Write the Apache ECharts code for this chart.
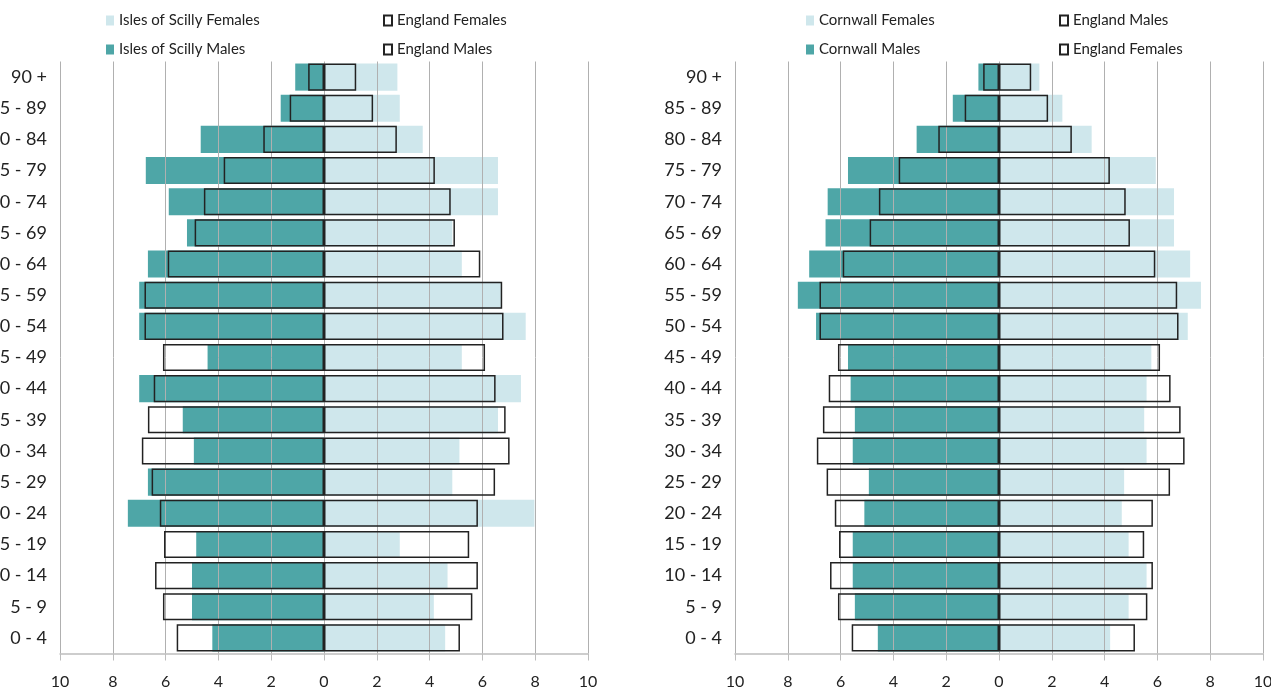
<!DOCTYPE html>
<html>
<head>
<meta charset="utf-8">
<script src="https://cdn.jsdelivr.net/npm/echarts@6/dist/echarts.min.js"></script>
<style>
html,body{margin:0;padding:0;background:#fff;}
#c{width:1271px;height:692px;}
</style>
</head>
<body>
<div id="c"></div>
<script>
// Age bands, bottom to top
const ages = ['0 - 4','5 - 9','10 - 14','15 - 19','20 - 24','25 - 29','30 - 34','35 - 39','40 - 44','45 - 49','50 - 54','55 - 59','60 - 64','65 - 69','70 - 74','75 - 79','80 - 84','85 - 89','90 +'];
// Percent of population
const scillyMales   = [4.23, 5.0, 5.0, 4.84, 7.43, 6.67, 4.93, 5.35, 7.0, 4.41, 7.0, 7.0, 6.67, 5.19, 5.88, 6.75, 4.67, 1.64, 1.09];
const scillyFemales = [4.59, 4.16, 4.68, 2.87, 7.97, 4.86, 5.13, 6.59, 7.46, 5.22, 7.64, 6.70, 5.22, 4.86, 6.59, 6.59, 3.74, 2.87, 2.78];
const cornwallMales   = [4.59, 5.46, 5.54, 5.54, 5.1, 4.93, 5.54, 5.46, 5.62, 5.72, 6.93, 7.62, 7.19, 6.57, 6.49, 5.72, 3.12, 1.75, 0.78];
const cornwallFemales = [4.21, 4.91, 5.59, 4.91, 4.65, 4.74, 5.59, 5.5, 5.59, 5.77, 7.15, 7.65, 7.24, 6.63, 6.63, 5.94, 3.51, 2.40, 1.53];
const englandMales   = [5.58, 6.1, 6.4, 6.06, 6.22, 6.53, 6.9, 6.67, 6.45, 6.1, 6.8, 6.8, 5.92, 4.9, 4.55, 3.8, 2.3, 1.3, 0.6];
const englandFemales = [5.15, 5.62, 5.83, 5.5, 5.83, 6.48, 7.03, 6.88, 6.5, 6.1, 6.8, 6.75, 5.92, 4.96, 4.8, 4.2, 2.76, 1.86, 1.22];

const FONT = 'Lato';
const TEAL = '#4ea6a7';
const LIGHT = '#cfe7ec';
const neg = a => a.map(v => -v);

function xAxisDef(gi) {
  return {
    type: 'value', gridIndex: gi, min: -10, max: 10, interval: 2, z: 5,
    axisLine: {show: true, onZero: false, lineStyle: {color: '#bdbdbd', width: 1.5}},
    axisTick: {show: true, length: 7, lineStyle: {color: '#bdbdbd'}},
    splitLine: {show: true, lineStyle: {color: '#b0b0b0', width: 1}},
    axisLabel: {formatter: v => Math.abs(v), color: '#222', fontFamily: FONT, fontSize: 16, margin: 20}
  };
}
function yAxisDef(gi) {
  return {
    type: 'category', gridIndex: gi, data: ages,
    axisLine: {show: false}, axisTick: {show: false},
    axisLabel: {color: '#222', fontFamily: FONT, fontSize: 18, margin: 13}
  };
}
function localSeries(name, data, color, gi) {
  return {name, type: 'bar', xAxisIndex: gi, yAxisIndex: gi, data, barGap: '-100%', barCategoryGap: '13%',
    itemStyle: {color}, z: 2, animation: false};
}
function engSeries(name, data, gi) {
  return {name, type: 'bar', xAxisIndex: gi, yAxisIndex: gi, data, barGap: '-100%', barCategoryGap: '13%',
    itemStyle: {color: 'rgba(255,255,255,0)', borderColor: '#222', borderWidth: 1.5}, z: 6, animation: false};
}
function legendDef(left, names) {
  return {
    left, top: 13, padding: 0, orient: 'vertical', itemGap: 14, itemWidth: 8, itemHeight: 10, itemTextGap: 4,
    icon: 'rect', selectedMode: false, data: names,
    textStyle: {color: '#222', fontFamily: FONT, fontSize: 15}
  };
}

const option = {
  animation: false,
  textStyle: {fontFamily: FONT},
  grid: [
    {left: 60, right: 683, top: 61.5, bottom: 38.5, containLabel: false, outerBoundsMode: 'none'},
    {left: 735, right: 8, top: 61.5, bottom: 38.5, containLabel: false, outerBoundsMode: 'none'}
  ],
  legend: [
    legendDef(106, ['Isles of Scilly Females', 'Isles of Scilly Males']),
    legendDef(383, ['England Females', 'England Males']),
    legendDef(806, ['Cornwall Females', 'Cornwall Males']),
    legendDef(1059, ['England Males', 'England Females'])
  ],
  xAxis: [xAxisDef(0), xAxisDef(1)],
  yAxis: [yAxisDef(0), yAxisDef(1)],
  series: [
    localSeries('Isles of Scilly Females', scillyFemales, LIGHT, 0),
    localSeries('Isles of Scilly Males', neg(scillyMales), TEAL, 0),
    engSeries('England Females', englandFemales, 0),
    engSeries('England Males', neg(englandMales), 0),
    localSeries('Cornwall Females', cornwallFemales, LIGHT, 1),
    localSeries('Cornwall Males', neg(cornwallMales), TEAL, 1),
    engSeries('England Females', englandFemales, 1),
    engSeries('England Males', neg(englandMales), 1)
  ]
};
const chart = echarts.init(document.getElementById('c'), null, {renderer: 'canvas'});
chart.setOption(option);
</script>
</body>
</html>
